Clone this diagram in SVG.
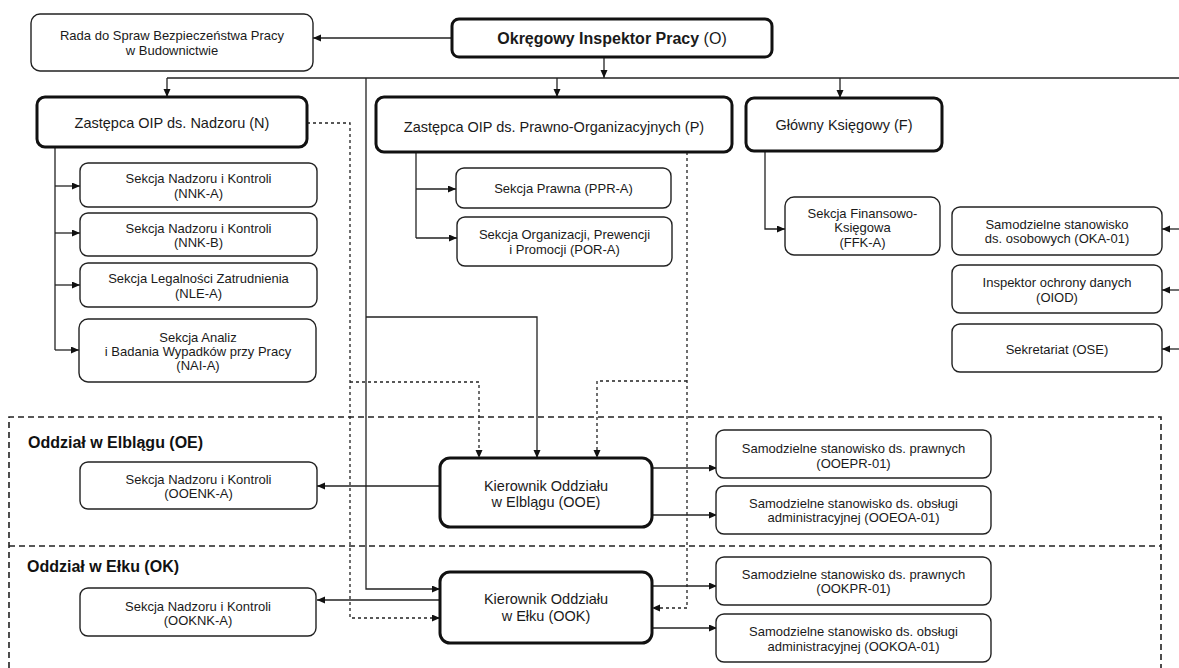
<svg xmlns="http://www.w3.org/2000/svg" width="1179" height="668" viewBox="0 0 1179 668">
<style>
.box{fill:#fff;stroke:#222;stroke-width:1.4}
.main{fill:#fff;stroke:#111;stroke-width:3}
.t{font-family:"Liberation Sans",Arial,sans-serif;font-size:13px;fill:#1a1a1a;text-anchor:middle}
.tm{font-family:"Liberation Sans",Arial,sans-serif;font-size:14.5px;fill:#1a1a1a;text-anchor:middle}
.lbl{font-family:"Liberation Sans",Arial,sans-serif;font-size:16px;font-weight:bold;fill:#111}
.ln{fill:none;stroke:#222;stroke-width:1.3}
.dl{fill:none;stroke:#222;stroke-width:1.3;stroke-dasharray:3,3}
.reg{fill:none;stroke:#222;stroke-width:1.6;stroke-dasharray:6,4}
</style>
<defs>
<marker id="a" markerUnits="userSpaceOnUse" markerWidth="9" markerHeight="8" refX="8" refY="3.5" orient="auto">
<path d="M0,0 L8,3.5 L0,7 z" fill="#111"/>
</marker>
</defs>
<g id="regions">
<path class="reg" d="M9,668 V417 H1161 V668"/>
<path class="reg" d="M9,546 H1161"/>
<text class="lbl" x="28" y="448">Oddział w Elblągu (OE)</text>
<text class="lbl" x="27" y="572">Oddział w Ełku (OK)</text>
</g>
<g id="connectors">
<path class="ln" d="M452,38 H313" marker-end="url(#a)"/>
<path class="ln" d="M604,57 V78" marker-end="url(#a)"/>
<path class="ln" d="M167,78 H1179"/>
<path class="ln" d="M167,78 V97" marker-end="url(#a)"/>
<path class="ln" d="M557,78 V97" marker-end="url(#a)"/>
<path class="ln" d="M840,78 V98" marker-end="url(#a)"/>
<path class="ln" d="M366,78 V589 H440" marker-end="url(#a)"/>
<path class="ln" d="M366,317 H537 V458" marker-end="url(#a)"/>
<path class="ln" d="M55,147 V350"/>
<path class="ln" d="M55,186 H80" marker-end="url(#a)"/>
<path class="ln" d="M55,233 H80" marker-end="url(#a)"/>
<path class="ln" d="M55,285 H80" marker-end="url(#a)"/>
<path class="ln" d="M55,350 H79" marker-end="url(#a)"/>
<path class="ln" d="M416,152 V238"/>
<path class="ln" d="M416,189 H456" marker-end="url(#a)"/>
<path class="ln" d="M416,238 H457" marker-end="url(#a)"/>
<path class="ln" d="M765,151 V229 H785" marker-end="url(#a)"/>
<path class="ln" d="M1179,229 H1162" marker-end="url(#a)"/>
<path class="ln" d="M1179,290 H1162" marker-end="url(#a)"/>
<path class="ln" d="M1179,349 H1162" marker-end="url(#a)"/>
<path class="dl" d="M307,123 H350 V618 H440" marker-end="url(#a)"/>
<path class="dl" d="M350,382 H479 V458" marker-end="url(#a)"/>
<path class="dl" d="M687,152 V608 H652" marker-end="url(#a)"/>
<path class="dl" d="M687,381 H597 V458" marker-end="url(#a)"/>
<path class="ln" d="M440,486 H317" marker-end="url(#a)"/>
<path class="ln" d="M440,600 H317" marker-end="url(#a)"/>
<path class="ln" d="M652,468 H717" marker-end="url(#a)"/>
<path class="ln" d="M652,515 H717" marker-end="url(#a)"/>
<path class="ln" d="M652,586 H717" marker-end="url(#a)"/>
<path class="ln" d="M652,628 H717" marker-end="url(#a)"/>
</g>
<g id="rada"><rect class="box" x="31" y="14" width="282" height="57" rx="9"/>
<text class="t" x="172" y="39.5">Rada do Spraw Bezpieczeństwa Pracy</text><text class="t" x="172" y="54.5">w Budownictwie</text></g>
<g id="oip"><rect class="main" x="452" y="19" width="320" height="38" rx="7"/>
<text class="tm" x="612" y="44" style="font-size:16px"><tspan font-weight="bold">Okręgowy Inspektor Pracy</tspan> (O)</text></g>
<g id="n"><rect class="main" x="37" y="97" width="270" height="50" rx="8"/>
<text class="tm" x="172" y="127.5">Zastępca OIP ds. Nadzoru (N)</text></g>
<g id="p"><rect class="main" x="376" y="97" width="356" height="55" rx="8"/>
<text class="tm" x="554" y="131.5">Zastępca OIP ds. Prawno-Organizacyjnych (P)</text></g>
<g id="f"><rect class="main" x="746" y="98" width="196" height="53" rx="8"/>
<text class="tm" x="844" y="130">Główny Księgowy (F)</text></g>
<g id="nnka"><rect class="box" x="80" y="163" width="237" height="44" rx="8"/>
<text class="t" x="198.5" y="182.5">Sekcja Nadzoru i Kontroli</text><text class="t" x="198.5" y="197.5">(NNK-A)</text></g>
<g id="nnkb"><rect class="box" x="80" y="213" width="237" height="43" rx="8"/>
<text class="t" x="198.5" y="232.5">Sekcja Nadzoru i Kontroli</text><text class="t" x="198.5" y="247">(NNK-B)</text></g>
<g id="nlea"><rect class="box" x="80" y="263" width="237" height="44" rx="8"/>
<text class="t" x="198.5" y="282.5">Sekcja Legalności Zatrudnienia</text><text class="t" x="198.5" y="297.5">(NLE-A)</text></g>
<g id="naia"><rect class="box" x="79" y="319" width="237" height="63" rx="9"/>
<text class="t" x="198" y="341.5">Sekcja Analiz</text><text class="t" x="198" y="356">i Badania Wypadków przy Pracy</text><text class="t" x="198" y="370">(NAI-A)</text></g>
<g id="ppra"><rect class="box" x="456" y="168" width="215" height="40" rx="8"/>
<text class="t" x="563.5" y="192.5">Sekcja Prawna (PPR-A)</text></g>
<g id="pora"><rect class="box" x="457" y="217" width="215" height="49" rx="8"/>
<text class="t" x="564.5" y="238.5">Sekcja Organizacji, Prewencji</text><text class="t" x="564.5" y="253.5">i Promocji (POR-A)</text></g>
<g id="ffka"><rect class="box" x="785" y="197" width="155" height="58" rx="9"/>
<text class="t" x="862.5" y="217.5">Sekcja Finansowo-</text><text class="t" x="862.5" y="232">Księgowa</text><text class="t" x="862.5" y="246.5">(FFK-A)</text></g>
<g id="oka"><rect class="box" x="952" y="207" width="210" height="48" rx="8"/>
<text class="t" x="1057" y="228.5">Samodzielne stanowisko</text><text class="t" x="1057" y="242.5">ds. osobowych (OKA-01)</text></g>
<g id="oiod"><rect class="box" x="952" y="265" width="210" height="48" rx="8"/>
<text class="t" x="1057" y="286.5">Inspektor ochrony danych</text><text class="t" x="1057" y="301.5">(OIOD)</text></g>
<g id="ose"><rect class="box" x="952" y="324" width="210" height="48" rx="8"/>
<text class="t" x="1057" y="353.5">Sekretariat (OSE)</text></g>
<g id="ooenka"><rect class="box" x="80" y="462" width="237" height="47" rx="8"/>
<text class="t" x="198.5" y="483.5">Sekcja Nadzoru i Kontroli</text><text class="t" x="198.5" y="497.5">(OOENK-A)</text></g>
<g id="ooknka"><rect class="box" x="80" y="588" width="236" height="48" rx="8"/>
<text class="t" x="198" y="610.5">Sekcja Nadzoru i Kontroli</text><text class="t" x="198" y="624.5">(OOKNK-A)</text></g>
<g id="ooe"><rect class="main" x="440" y="458" width="212" height="69" rx="10"/>
<text class="tm" x="546" y="491">Kierownik Oddziału</text><text class="tm" x="546" y="507">w Elblągu (OOE)</text></g>
<g id="ook"><rect class="main" x="440" y="572" width="212" height="71" rx="10"/>
<text class="tm" x="546" y="604">Kierownik Oddziału</text><text class="tm" x="546" y="621">w Ełku (OOK)</text></g>
<g id="ooepr"><rect class="box" x="716" y="430" width="275" height="48" rx="8"/>
<text class="t" x="853.5" y="452.5">Samodzielne stanowisko ds. prawnych</text><text class="t" x="853.5" y="467.5">(OOEPR-01)</text></g>
<g id="ooeoa"><rect class="box" x="716" y="486" width="275" height="48" rx="8"/>
<text class="t" x="853.5" y="507.5">Samodzielne stanowisko ds. obsługi</text><text class="t" x="853.5" y="521.5">administracyjnej (OOEOA-01)</text></g>
<g id="ookpr"><rect class="box" x="716" y="557" width="275" height="48" rx="8"/>
<text class="t" x="853.5" y="578.5">Samodzielne stanowisko ds. prawnych</text><text class="t" x="853.5" y="592.5">(OOKPR-01)</text></g>
<g id="ookoa"><rect class="box" x="716" y="614" width="275" height="48" rx="8"/>
<text class="t" x="853.5" y="635.5">Samodzielne stanowisko ds. obsługi</text><text class="t" x="853.5" y="650.5">administracyjnej (OOKOA-01)</text></g>
</svg>
